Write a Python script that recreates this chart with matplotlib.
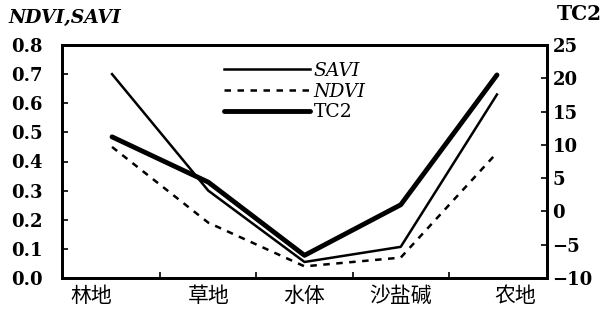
import matplotlib
matplotlib.use("Agg")
import matplotlib.pyplot as plt
from matplotlib.ticker import FixedLocator

categories = ["林地", "草地", "水体", "沙盐碱", "农地"]
savi = [0.70, 0.30, 0.055, 0.107, 0.63]
ndvi = [0.45, 0.19, 0.04, 0.07, 0.43]
tc2 = [11.2, 4.4, -6.6, 1.0, 20.5]
left_ticks = [0.0, 0.1, 0.2, 0.3, 0.4, 0.5, 0.6, 0.7, 0.8]
right_ticks = [-10, -5, 0, 5, 10, 15, 20, 25]

serif = ["DejaVu Serif"]
cjk = ["Noto Sans CJK SC", "DejaVu Sans"]

fig = plt.figure(figsize=(6.08, 3.14), dpi=100)
ax = fig.add_axes([62/608, 36/314, (547-62)/608, (278-45)/314])
ax2 = ax.twinx()

x = list(range(len(categories)))
l1, = ax.plot(x, savi, color="black", lw=1.8, label="SAVI")
l2, = ax.plot(x, ndvi, color="black", lw=1.8, dashes=(2.6, 2.6), label="NDVI")
l3, = ax2.plot(x, tc2, color="black", lw=3.5, label="TC2", solid_capstyle="round")

ax.set_xlim(-0.52, 4.52)
ax.set_ylim(0, 0.8)
ax2.set_ylim(-10, 25)
ax.set_yticks(left_ticks)
ax.set_yticklabels([f"{v:.1f}" for v in left_ticks])
ax2.set_yticks(right_ticks)
ax2.set_yticklabels([str(v).replace("-", "\u2212") for v in right_ticks])

# label positions: the outer labels sit slightly outside their points
label_pos = [i for i in x]
label_pos[0] -= 0.215
label_pos[-1] += 0.185
ax.set_xticks(label_pos)
ax.set_xticklabels(categories, fontfamily=cjk, fontsize=15)
ax.xaxis.set_minor_locator(FixedLocator([0.5, 1.5, 2.5, 3.5]))
ax.tick_params(axis="x", which="major", length=0, pad=5)
ax.tick_params(axis="x", which="minor", direction="in", length=4, width=1.2)
ax.tick_params(axis="y", direction="in", length=4, width=1.2, pad=14)
ax2.tick_params(axis="y", direction="in", length=4, width=1.2, pad=4)

for lab in ax.get_yticklabels() + ax2.get_yticklabels():
    lab.set_fontfamily(serif)
    lab.set_fontweight("bold")
    lab.set_fontsize(13)

for a in (ax, ax2):
    for s in a.spines.values():
        s.set_linewidth(2)

fig.text(8/608, 1 - 18/314, "NDVI,SAVI", fontfamily=serif, fontstyle="italic",
         fontweight="bold", fontsize=13.5, va="center", ha="left")
fig.text(579/608, 1 - 14/314, "TC2", fontfamily=serif, fontweight="bold",
         fontsize=14.5, va="center", ha="center")

leg = ax2.legend([l1, l2, l3], ["SAVI", "NDVI", "TC2"], loc="upper left",
                 bbox_to_anchor=(0.318, 0.96), frameon=False, handlelength=4.6,
                 handletextpad=0.2, labelspacing=0.15, borderaxespad=0,
                 prop={"family": serif, "size": 13.5})
for t in leg.get_texts()[:2]:
    t.set_fontstyle("italic")

fig.savefig("out.png", dpi=100)
